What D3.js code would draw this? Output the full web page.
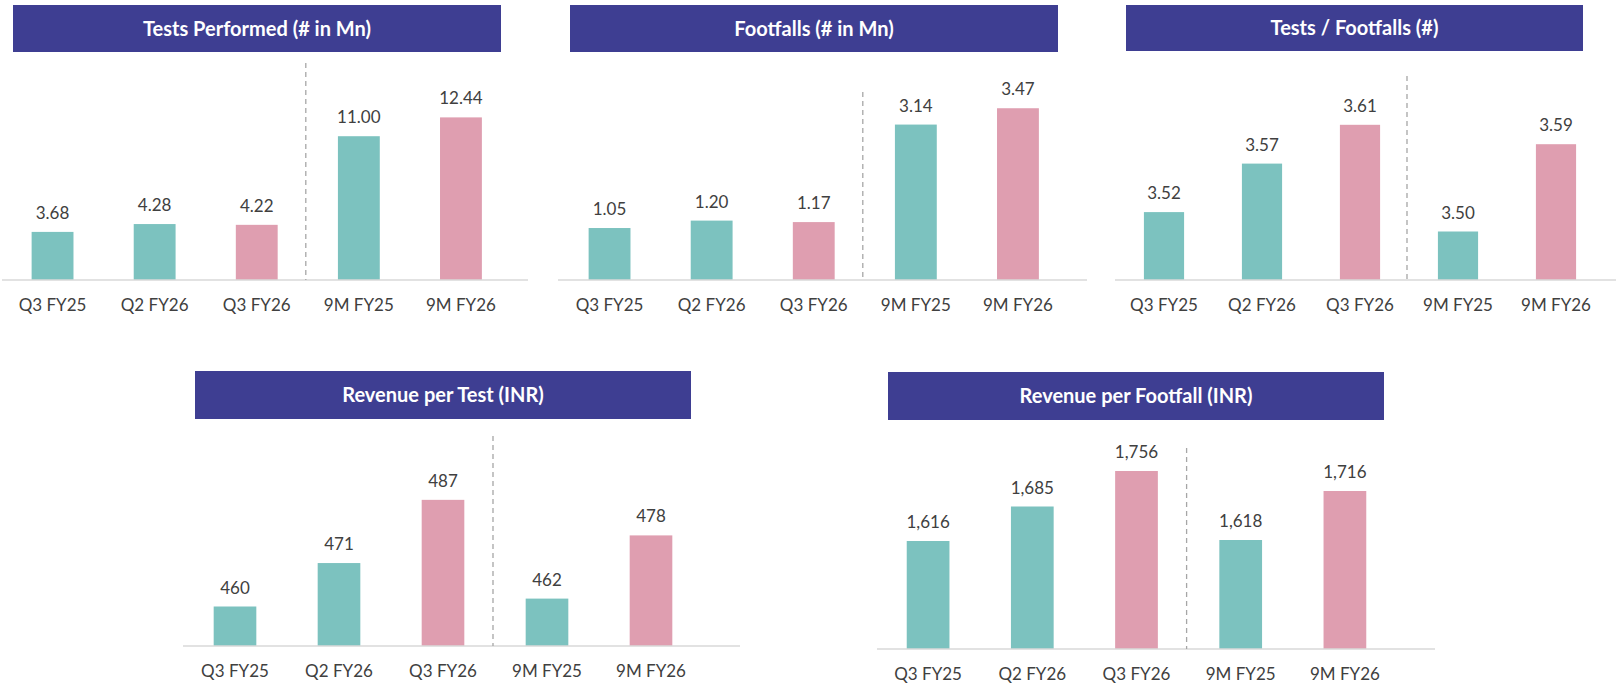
<!DOCTYPE html>
<html lang="en">
<head>
<meta charset="UTF-8">
<script src="https://cdn.jsdelivr.net/npm/d3@7"></script>
<style>
body {
    margin: 0;
    background: #fff;
    font-family: Lato, "Open Sans", sans-serif;
}
.axis-line {
    stroke: #d9d9d9;
    stroke-width: 1.5px;
}
.divider {
    stroke: #a6a6a6;
    stroke-width: 1.3px;
    stroke-dasharray: 5, 4;
}
.header {
    fill: #3e3e92;
}
.header-text {
    fill: #fff;
    font-weight: bold;
    font-size: 20px;
}
.value-label {
    fill: #404040;
    font-size: 17px;
}
.cat-label {
    fill: #404040;
    font-size: 17px;
}
</style>
</head>
<body>
<svg id="chart" width="1616" height="683"></svg>
<script>
// data
const categories = ["Q3 FY25", "Q2 FY26", "Q3 FY26", "9M FY25", "9M FY26"];
const highlighted = [false, false, true, false, true];

const testsPerformed = [3.68, 4.28, 4.22, 11.00, 12.44];
const footfalls = [1.05, 1.20, 1.17, 3.14, 3.47];
const testsPerFootfall = [3.52, 3.57, 3.61, 3.50, 3.59];
const revenuePerTest = [460, 471, 487, 462, 478];
const revenuePerFootfall = [1616, 1685, 1756, 1618, 1716];

const titles = [
    "Tests Performed (# in Mn)",
    "Footfalls (# in Mn)",
    "Tests / Footfalls (#)",
    "Revenue per Test (INR)",
    "Revenue per Footfall (INR)"
];

const teal = "#7cc2bf";
const pink = "#df9eb0";

// layout of each small chart
const panels = [
    {values: testsPerformed, fmt: ".2f", domain: [0, 14],
     header: [13, 5, 501, 52], band: [1.5, 512], axis: [2, 528], base: 280, top: 97, divTop: 63},
    {values: footfalls, fmt: ".2f", domain: [0, 4],
     header: [570, 5, 1058, 52], band: [558.5, 1069], axis: [558, 1087], base: 280, top: 82, divTop: 92},
    {values: testsPerFootfall, fmt: ".2f", domain: [3.45, 3.65],
     header: [1126, 5, 1583, 51], band: [1115, 1605], axis: [1115, 1616], base: 280, top: 86, divTop: 76},
    {values: revenuePerTest, fmt: "d", domain: [450, 490],
     header: [195, 371, 691, 419], band: [183, 703], axis: [183, 740], base: 646, top: 488, divTop: 436},
    {values: revenuePerFootfall, fmt: ",", domain: [1400, 1800],
     header: [888, 372, 1384, 420], band: [876, 1397], axis: [877, 1435], base: 649, top: 449, divTop: 448}
];

const svg = d3.select("#chart");

panels.forEach((p, k) => {
    const g = svg.append("g");

    const x = d3.scaleBand()
        .domain(categories)
        .range(p.band)
        .paddingInner(0.59)
        .paddingOuter(0.295);

    const y = d3.scaleLinear()
        .domain(p.domain)
        .range([p.base, p.top]);

    const fmt = d3.format(p.fmt);

    // title bar
    g.append("rect")
        .attr("class", "header")
        .attr("x", p.header[0])
        .attr("y", p.header[1])
        .attr("width", p.header[2] - p.header[0])
        .attr("height", p.header[3] - p.header[1]);

    g.append("text")
        .attr("class", "header-text")
        .attr("x", (p.header[0] + p.header[2]) / 2)
        .attr("y", (p.header[1] + p.header[3]) / 2)
        .attr("dy", "0.36em")
        .attr("text-anchor", "middle")
        .text(titles[k]);

    // bars
    g.selectAll(".bar")
        .data(p.values)
        .enter().append("rect")
        .attr("class", "bar")
        .attr("x", (d, i) => x(categories[i]))
        .attr("y", d => y(d))
        .attr("width", x.bandwidth())
        .attr("height", d => p.base - y(d))
        .attr("fill", (d, i) => highlighted[i] ? pink : teal);

    // value labels
    g.selectAll(".value-label")
        .data(p.values)
        .enter().append("text")
        .attr("class", "value-label")
        .attr("x", (d, i) => x(categories[i]) + x.bandwidth() / 2)
        .attr("y", d => y(d) - 13)
        .attr("text-anchor", "middle")
        .text(d => fmt(d));

    // baseline
    g.append("line")
        .attr("class", "axis-line")
        .attr("x1", p.axis[0])
        .attr("x2", p.axis[1])
        .attr("y1", p.base)
        .attr("y2", p.base);

    // category labels
    g.selectAll(".cat-label")
        .data(categories)
        .enter().append("text")
        .attr("class", "cat-label")
        .attr("x", d => x(d) + x.bandwidth() / 2)
        .attr("y", p.base + 31)
        .attr("text-anchor", "middle")
        .text(d => d);

    // dashed divider between quarters and 9M
    const divX = (x(categories[2]) + x(categories[3]) + x.bandwidth()) / 2 - 2;
    g.append("line")
        .attr("class", "divider")
        .attr("x1", divX)
        .attr("x2", divX)
        .attr("y1", p.divTop)
        .attr("y2", p.base);
});
</script>
</body>
</html>
